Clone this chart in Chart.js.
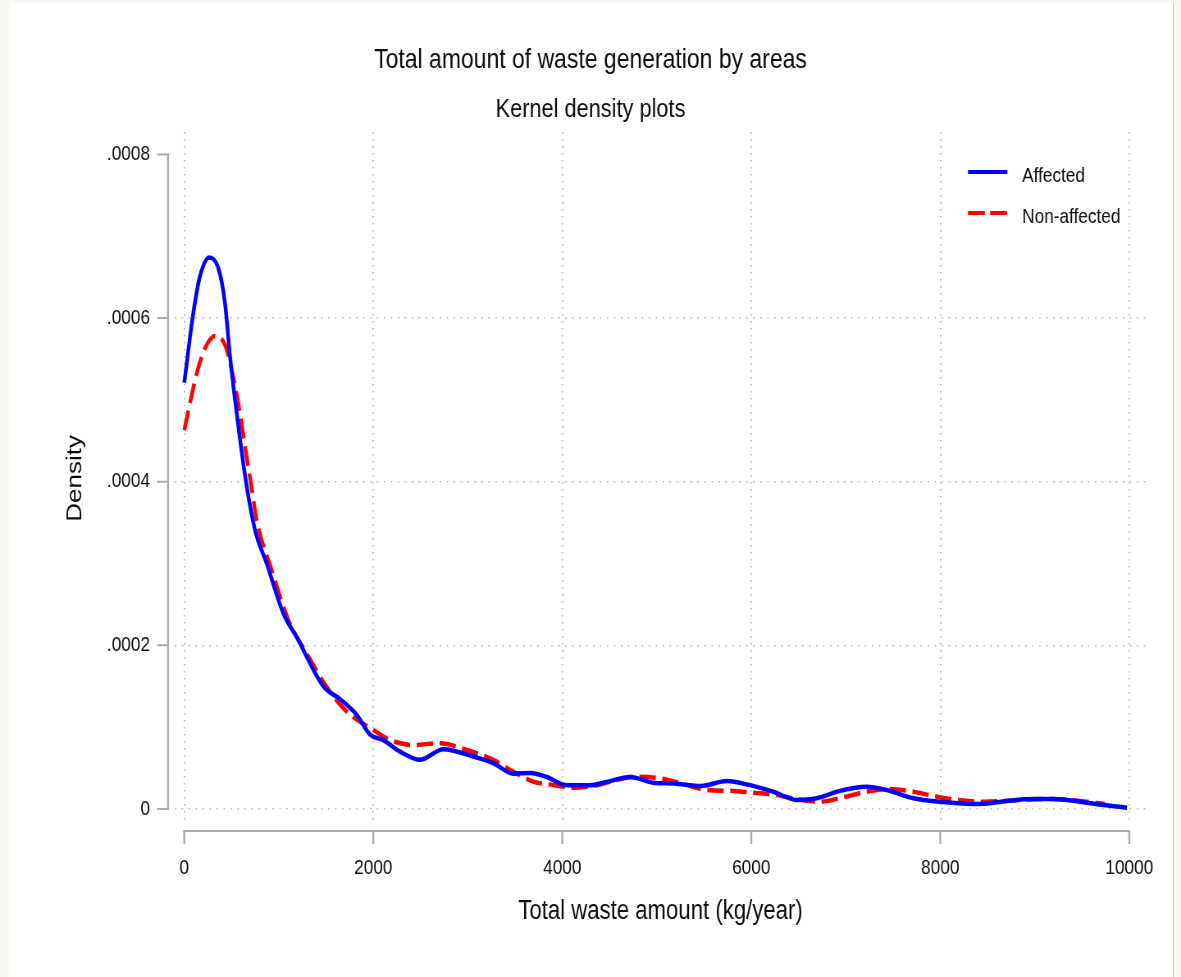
<!DOCTYPE html>
<html>
<head>
<meta charset="utf-8">
<script src="https://cdn.jsdelivr.net/npm/chart.js@4.4.1/dist/chart.umd.min.js"></script>
<style>
  html, body { margin: 0; padding: 0; background: #f8f8f5; overflow: hidden; }
  #frame { position: absolute; left: 10px; top: 3px; width: 1163px; height: 974px; background: #ffffff; border-right: 1px solid #cfcfcf; }
  #c { position: absolute; left: 0; top: 0; }
</style>
</head>
<body>
<div id="frame"></div>
<!-- the drawing surface is 1440 px wide and shown at 1181 px: the reference uses narrow (condensed) lettering -->
<canvas id="c" width="1440" height="977" style="width:1181px;height:977px"></canvas>
<script>
// ---- data ----
const affectedX = [0, 95, 166, 265, 360, 431, 484, 554, 650, 748, 872, 1048, 1189, 1471, 1650, 1824, 1965, 2106, 2283, 2494, 2741, 3058, 3270, 3481, 3658, 3835, 4046, 4293, 4470, 4716, 4963, 5175, 5470, 5740, 5986, 6233, 6480, 6692, 6939, 7221, 7433, 7715, 7997, 8420, 8703, 8985, 9196, 9478, 9725, 9975];
const affectedDensity = [0.000521, 0.000606, 0.000651, 0.000674, 0.000661, 0.000618, 0.000553, 0.000484, 0.000402, 0.000341, 0.000300, 0.000239, 0.000210, 0.000150, 0.000134, 0.000115, 0.000091, 0.000084, 0.000070, 0.000060, 0.000073, 0.000064, 0.000056, 0.000043, 0.000044, 0.000039, 0.000029, 0.000029, 0.000033, 0.000039, 0.000032, 0.000031, 0.000028, 0.000034, 0.000029, 0.000021, 0.000011, 0.000013, 0.000022, 0.000027, 0.000023, 0.000013, 0.0000088, 0.000006, 0.0000097, 0.000012, 0.000012, 0.0000088, 0.0000048, 0.0000015];
const nonAffectedX = [0, 60, 131, 219, 325, 431, 501, 571, 642, 702, 766, 925, 1101, 1295, 1507, 1718, 2000, 2177, 2423, 2706, 2988, 3270, 3481, 3693, 3905, 4116, 4328, 4576, 4787, 5034, 5280, 5528, 5810, 6021, 6268, 6515, 6727, 6974, 7221, 7433, 7715, 7926, 8173, 8455, 8737, 8985, 9196, 9478, 9740];
const nonAffectedDensity = [0.000463, 0.000496, 0.000532, 0.000563, 0.000578, 0.000567, 0.000537, 0.000496, 0.000443, 0.000400, 0.000353, 0.000292, 0.000231, 0.000190, 0.000149, 0.000119, 0.0000965, 0.0000842, 0.0000781, 0.0000802, 0.000072, 0.000060, 0.0000455, 0.0000333, 0.0000292, 0.0000259, 0.000028, 0.0000353, 0.0000394, 0.0000374, 0.0000304, 0.0000231, 0.000022, 0.0000198, 0.000017, 0.0000112, 0.0000088, 0.0000142, 0.000021, 0.0000243, 0.000021, 0.0000158, 0.0000109, 0.0000088, 0.00001, 0.0000117, 0.0000121, 0.0000097, 0.000006];
const xTicks = [0, 2000, 4000, 6000, 8000, 10000];
const yTicks = [0, 0.0002, 0.0004, 0.0006, 0.0008];
const yTickLabels = ['0', '.0002', '.0004', '.0006', '.0008'];
const seriesNames = ['Affected', 'Non-affected'];
const titleText = 'Total amount of waste generation by areas';
const subtitleText = 'Kernel density plots';
const xTitle = 'Total waste amount (kg/year)';
const yTitle = 'Density';

const FONT = "'Liberation Sans', Arial, sans-serif";
const INK = '#0a0a0a';

const toPts = (xs, ys) => xs.map((x, i) => ({ x: x, y: ys[i] }));

const axisPlugin = {
  id: 'stataAxes',
  afterDraw(chart) {
    const ctx = chart.ctx;
    const xs = chart.scales.x, ys = chart.scales.y;
    const ca = chart.chartArea;
    ctx.save();
    ctx.strokeStyle = '#ababab';
    ctx.setLineDash([]);
    // y axis
    const yx = ca.left - 8.5;
    ctx.lineWidth = 2.4;
    ctx.beginPath();
    ctx.moveTo(yx, ys.getPixelForValue(yTicks[0]) + 1);
    ctx.lineTo(yx, ys.getPixelForValue(yTicks[yTicks.length - 1]) - 1);
    ctx.stroke();
    ctx.lineWidth = 2;
    ctx.beginPath();
    yTicks.forEach(v => {
      const p = ys.getPixelForValue(v);
      ctx.moveTo(yx - 13.5, p); ctx.lineTo(yx + 1.2, p);
    });
    ctx.stroke();
    // x axis
    const xy = ca.bottom + 6;
    ctx.lineWidth = 2;
    ctx.beginPath();
    ctx.moveTo(xs.getPixelForValue(xTicks[0]) - 1.2, xy);
    ctx.lineTo(xs.getPixelForValue(xTicks[xTicks.length - 1]) + 1.2, xy);
    ctx.stroke();
    ctx.lineWidth = 2.4;
    ctx.beginPath();
    xTicks.forEach(v => {
      const p = xs.getPixelForValue(v);
      ctx.moveTo(p, xy); ctx.lineTo(p, xy + 13);
    });
    ctx.stroke();
    // legend
    const lx = ca.right - 217;
    const rows = [ca.top + 40, ca.top + 81];
    chart.data.datasets.forEach((ds, i) => {
      const y = rows[i];
      ctx.strokeStyle = ds.borderColor;
      ctx.lineWidth = 4;
      ctx.setLineDash(i === 1 ? [20.5, 6.5] : []);
      ctx.beginPath();
      ctx.moveTo(lx, y); ctx.lineTo(lx + 48, y);
      ctx.stroke();
      ctx.setLineDash([]);
      ctx.fillStyle = INK;
      ctx.font = '21px ' + FONT;
      ctx.textBaseline = 'middle';
      ctx.textAlign = 'left';
      ctx.fillText(ds.label, lx + 66, y + 4);
    });
    ctx.restore();
  }
};

new Chart(document.getElementById('c'), {
  type: 'line',
  data: {
    datasets: [
      { label: seriesNames[0], data: toPts(affectedX, affectedDensity), borderColor: '#0000ff', borderWidth: 4.5, pointRadius: 0, cubicInterpolationMode: 'monotone', fill: false },
      { label: seriesNames[1], data: toPts(nonAffectedX, nonAffectedDensity), borderColor: '#ff0000', borderWidth: 4.5, borderDash: [20, 8], pointRadius: 0, cubicInterpolationMode: 'monotone', fill: false }
    ]
  },
  options: {
    responsive: false,
    animation: false,
    devicePixelRatio: 1,
    layout: { padding: { left: 0, right: 0, top: 0, bottom: 0 } },
    plugins: {
      legend: { display: false },
      tooltip: { enabled: false },
      title: { display: true, text: titleText, color: INK, font: { family: FONT, size: 28, weight: 'normal' }, padding: { top: 43, bottom: 0 } },
      subtitle: { display: true, text: subtitleText, color: INK, font: { family: FONT, size: 26.5, weight: 'normal' }, padding: { top: 17.5, bottom: 6 } }
    },
    scales: {
      x: {
        type: 'linear', min: -98, max: 10177,
        afterBuildTicks: s => { s.ticks = xTicks.map(v => ({ value: v })); },
        afterFit: s => { s.height = 152; s.paddingLeft = 0; s.paddingRight = 42.7; },
        border: { display: false, dash: [1.5, 5.5] },
        grid: { drawTicks: false, color: '#b8b8b8', lineWidth: 1.8 },
        ticks: { padding: 30.4, color: INK, font: { family: FONT, size: 21 }, maxRotation: 0, callback: v => String(v) },
        title: { display: true, text: xTitle, color: INK, font: { family: FONT, size: 27 }, padding: { top: 0, bottom: 48.8 } }
      },
      y: {
        type: 'linear', min: -0.0000197, max: 0.0008275,
        afterBuildTicks: s => { s.ticks = yTicks.map(v => ({ value: v })); },
        afterFit: s => { s.width = 213.4; s.paddingTop = 0; s.paddingBottom = 0; },
        border: { display: false, dash: [1.8, 6.7] },
        grid: { drawTicks: false, color: ctx => (ctx.tick && ctx.tick.value >= 0.0008 ? 'rgba(0,0,0,0)' : '#b8b8b8'), lineWidth: 1.5 },
        ticks: { padding: 30.5, color: INK, font: { family: FONT, size: 21 }, callback: v => { const k = yTicks.indexOf(v); return k >= 0 ? yTickLabels[k] : ''; } },
        title: { display: true, text: yTitle, color: INK, font: { family: FONT, size: 26 }, padding: { top: 75.8, bottom: 0 } }
      }
    }
  },
  plugins: [axisPlugin]
});
</script>
</body>
</html>
